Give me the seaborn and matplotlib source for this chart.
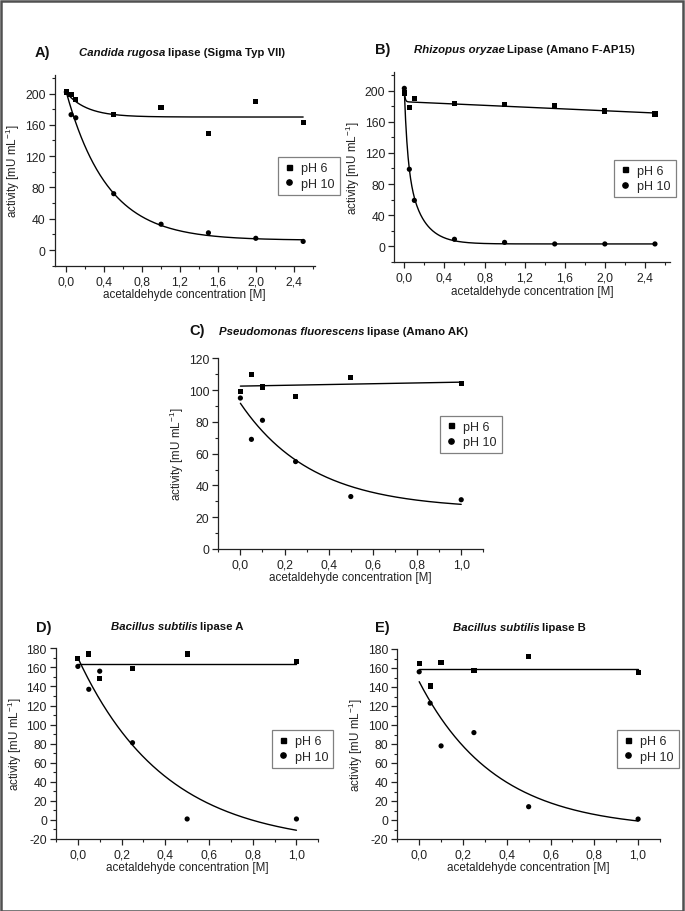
import numpy as np
import pandas as pd
import matplotlib
matplotlib.use("Agg")
import matplotlib.pyplot as plt
import seaborn as sns
from matplotlib.lines import Line2D
from matplotlib.ticker import MultipleLocator, FuncFormatter
from matplotlib.patches import Rectangle

sns.set_theme(style="ticks")
plt.rcParams['font.family'] = ['Liberation Sans', 'DejaVu Sans']
plt.rcParams['mathtext.fontset'] = 'custom'
plt.rcParams['mathtext.rm'] = 'Liberation Sans'
plt.rcParams['mathtext.it'] = 'Liberation Sans:italic'
plt.rcParams['mathtext.bf'] = 'Liberation Sans:bold'

# ---------------- data ----------------
# Panel A: Candida rugosa lipase
a_x = [0.0, 0.05, 0.1, 0.5, 1.0, 1.5, 2.0, 2.5]
a_ph6 = [202, 199, 192, 173, 182, 149, 190, 163]
a_ph10 = [202, 173, 169, 72, 33, 22, 15, 11]
# Panel B: Rhizopus oryzae lipase
b_x = [0.0, 0.05, 0.1, 0.5, 1.0, 1.5, 2.0, 2.5]
b_ph6 = [197, 178, 190, 184, 182, 181, 174, 170]
b_ph10 = [203, 99, 59, 9, 5, 3, 3, 3]
# Panel C: Pseudomonas fluorescens lipase
c_x = [0.0, 0.05, 0.1, 0.25, 0.5, 1.0]
c_ph6 = [99, 110, 102, 96, 108, 104]
c_ph10 = [95, 69, 81, 55, 33, 31]
# Panel D: Bacillus subtilis lipase A
d_x = [0.0, 0.05, 0.1, 0.25, 0.5, 1.0]
d_ph6 = [169, 174, 148, 159, 174, 166]
d_ph10 = [161, 137, 156, 81, 1, 1]
# Panel E: Bacillus subtilis lipase B
e_x = [0.0, 0.05, 0.1, 0.25, 0.5, 1.0]
e_ph6 = [165, 141, 166, 157, 172, 155]
e_ph10 = [156, 123, 78, 92, 14, 1]

# fitted curve parameters: y0, slope, A1, t1, A2, t2
a_fit6 = [170, 0, 31, 0.22, 0, 1]
a_fit10 = [12.5, 0, 189, 0.435, 0, 1]
b_fit6 = [185.8, -5.8, 14, 0.008, 0, 1]
b_fit10 = [3, 0, 90, 0.032, 107, 0.153]
c_fit6 = [102.5, 2.5, 0, 1, 0, 1]
c_fit10 = [25, 0, 66.7, 0.326, 0, 1]
d_fit6 = [164, 0, 0, 1, 0, 1]
d_fit10 = [-27, 0, 197, 0.40, 0, 1]
e_fit6 = [159, 0, 0, 1, 0, 1]
e_fit10 = [-10, 0, 155.6, 0.35, 0, 1]

series_names = ["pH 6", "pH 10"]
x_label = "acetaldehyde concentration [M]"
y_label = r"activity [mU mL$^{-1}$]"

W, H = 685, 912
fig = plt.figure(figsize=(W / 100, H / 100), dpi=100)


def add_ax(l, t, r, b):
    return fig.add_axes([l / W, 1 - b / H, (r - l) / W, (b - t) / H])


def fit_curve(p, xmax, n=400):
    xs = np.linspace(0, xmax, n)
    ys = p[0] + p[1] * xs + p[2] * np.exp(-xs / p[3]) + p[4] * np.exp(-xs / p[5])
    return xs, ys


comma = FuncFormatter(lambda v, pos: f"{v:.1f}".replace(".", ","))
intfmt = FuncFormatter(lambda v, pos: f"{v:.0f}")


def panel(box, xs, y6, y10, f6, f10, xlim, ylim, xmaj, xmin_, ymaj, ymin_,
          yticks, letter, letter_pos, title_it, title_rest, title_pos, leg_pos):
    ax = add_ax(*box)
    df = pd.DataFrame({"x": list(xs) * 2, "y": list(y6) + list(y10),
                       "series": [series_names[0]] * len(xs) + [series_names[1]] * len(xs)})
    xmax = max(xs)
    for p in (f6, f10):
        cx, cy = fit_curve(p, xmax)
        sns.lineplot(x=cx, y=cy, ax=ax, color="black", lw=1.0, legend=False, estimator=None)
    sns.scatterplot(data=df, x="x", y="y", style="series",
                    markers={series_names[0]: "s", series_names[1]: "o"},
                    color="black", s=14, edgecolor="none", legend=False, ax=ax, zorder=3)
    ax.set_xlim(*xlim)
    ax.set_ylim(*ylim)
    ax.xaxis.set_major_locator(MultipleLocator(xmaj))
    ax.xaxis.set_minor_locator(MultipleLocator(xmin_))
    ax.set_yticks(yticks)
    ax.yaxis.set_minor_locator(MultipleLocator(ymin_))
    ax.xaxis.set_major_formatter(comma)
    ax.yaxis.set_major_formatter(intfmt)
    for s in ("top", "right"):
        ax.spines[s].set_visible(False)
    for s in ("left", "bottom"):
        ax.spines[s].set_linewidth(0.9)
        ax.spines[s].set_color("#222222")
    ax.tick_params(which="major", direction="out", length=4, width=0.9,
                   labelsize=8.7, colors="#222222", pad=2.5)
    ax.tick_params(which="minor", direction="out", length=2.2, width=0.8, colors="#222222")
    ax.set_xlabel(x_label, fontsize=8.4, labelpad=1, color="#222222")
    ax.set_ylabel(y_label, fontsize=8.4, labelpad=2, color="#222222")
    # letter
    fig.text(letter_pos[0] / W, 1 - letter_pos[1] / H, letter, fontsize=10.5,
             fontweight="bold", va="center", ha="left", color="#111111")
    # title
    t1 = fig.text(title_pos[0] / W, 1 - title_pos[1] / H, title_it, fontsize=8.2,
                  fontweight="bold", fontstyle="italic", va="center", ha="left", color="#111111")
    fig.canvas.draw()
    bb = t1.get_window_extent(fig.canvas.get_renderer())
    fig.text(bb.x1 / W + 2.5 / W, 1 - title_pos[1] / H, title_rest, fontsize=8.2,
             fontweight="bold", va="center", ha="left", color="#111111")
    handles = [Line2D([], [], marker="s", ls="none", color="black", markersize=3.6),
               Line2D([], [], marker="o", ls="none", color="black", markersize=3.8)]
    leg = ax.legend(handles, series_names, loc="upper left",
                    bbox_to_anchor=(leg_pos[0] / W, 1 - leg_pos[1] / H),
                    bbox_transform=fig.transFigure, fontsize=9, frameon=True,
                    fancybox=False, framealpha=1, edgecolor="#808080",
                    handlelength=1.0, handletextpad=0.45, borderpad=0.4,
                    labelspacing=0.3, borderaxespad=0)
    leg.get_frame().set_linewidth(0.9)
    return ax


panel((54.5, 76, 315, 267), a_x, a_ph6, a_ph10, a_fit6, a_fit10,
      (-0.125, 2.625), (-20.4, 223.7), 0.4, 0.2, 40, 20, [0, 40, 80, 120, 160, 200],
      "A)", (35, 53), "Candida rugosa", "lipase (Sigma Typ VII)", (79, 53), (278, 158))
panel((394.3, 72.7, 670, 263.3), b_x, b_ph6, b_ph10, b_fit6, b_fit10,
      (-0.1, 2.65), (-20.6, 224.4), 0.4, 0.2, 40, 20, [0, 40, 80, 120, 160, 200],
      "B)", (375, 50), "Rhizopus oryzae", "Lipase (Amano F-AP15)", (414, 50), (614, 160.7))
panel((218.3, 359.3, 483.3, 550), c_x, c_ph6, c_ph10, c_fit6, c_fit10,
      (-0.1, 1.1), (0, 120), 0.2, 0.1, 20, 10, [0, 20, 40, 60, 80, 100, 120],
      "C)", (189, 331), "Pseudomonas fluorescens", "lipase (Amano AK)", (219, 332), (440, 416.7))
panel((56, 649.3, 318.3, 840), d_x, d_ph6, d_ph10, d_fit6, d_fit10,
      (-0.1, 1.1), (-20, 180), 0.2, 0.1, 20, 10, list(range(-20, 181, 20)),
      "D)", (36, 628), "Bacillus subtilis", "lipase A", (111, 627), (271.7, 731))
panel((397.3, 650, 660, 840), e_x, e_ph6, e_ph10, e_fit6, e_fit10,
      (-0.1, 1.1), (-20, 180), 0.2, 0.1, 20, 10, list(range(-20, 181, 20)),
      "E)", (375, 628), "Bacillus subtilis", "lipase B", (453, 628), (617, 731))

fig.patches.append(Rectangle((0.5 / W, 0.5 / H), 1 - 2.5 / W, 1 - 2.5 / H,
                             transform=fig.transFigure, fill=False,
                             edgecolor="#505050", linewidth=1.8))

fig.savefig("out.png", dpi=100)
